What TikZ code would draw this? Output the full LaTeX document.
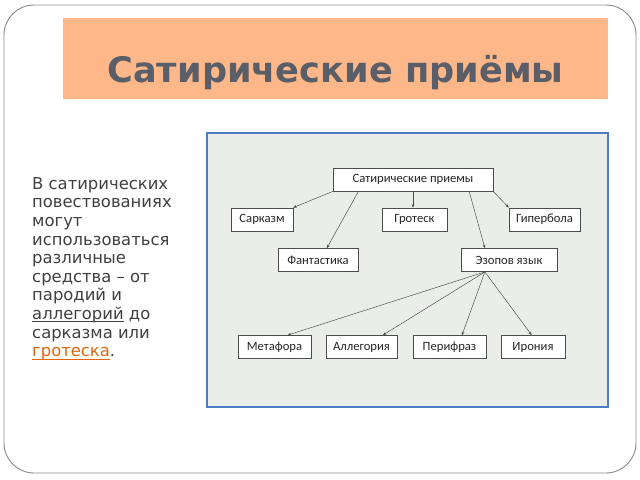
\documentclass[tikz,border=0pt]{standalone}
\usepackage{fontspec}
\setmainfont{DejaVu Sans}
\newfontfamily\boxfont{Carlito}
\usetikzlibrary{arrows.meta,calc,positioning}
\definecolor{bandorange}{HTML}{FDB788}
\definecolor{titlegray}{HTML}{5A5E69}
\definecolor{textgray}{HTML}{404040}
\definecolor{linkorange}{HTML}{E0650F}
\definecolor{panelblue}{HTML}{4F7AC7}
\definecolor{panelfill}{HTML}{EAEDE8}
\definecolor{framegray}{HTML}{8C8C8C}
\newcommand\linkline[1]{\leavevmode\setbox0\hbox{#1}\rlap{\rule[-2.2pt]{\wd0}{0.6pt}}\box0\relax}
\tikzset{
    box/.style ={rectangle, draw=black!70, fill=white, minimum height=0.7cm,
                 inner sep=0pt, font=\boxfont\fontsize{10.8}{12}\selectfont, text=black!85},
    link/.style={-{Stealth[length=3pt,width=2.4pt]}, draw=black!70, line width=0.4pt}
}

\begin{document}
\begin{tikzpicture}[x=0.03cm,y=-0.03cm]
      \useasboundingbox[fill=white] (0,0) rectangle (640,480);
      \draw[framegray,line width=0.8pt,rounded corners=0.9cm] (4,5) rectangle (636,473);

      % title band
      \fill[bandorange] (63,18) rectangle (608,99);
      \node[font=\bfseries\fontsize{30}{34}\selectfont,text=titlegray] (title) at (335.5,73) {Сатирические приёмы};

      % left text
      \node[anchor=north west,inner sep=0pt,align=left,text=textgray,
            font=\fontsize{14}{15.9}\selectfont] (intro) at (32,177)
           {В сатирических\\повествованиях\\могут\\использоваться\\различные\\средства – от\\пародий и\\
            \linkline{аллегорий} до\\сарказма или\\\textcolor{linkorange}{\linkline{гротеска}}.};

      % scheme panel
      \draw[panelblue,fill=panelfill,line width=1.7pt] (207,133) rectangle (608,407);

      \node[box,minimum width=4.8cm] (root) at (413,179.5) {Сатирические приемы};
      \node[box,minimum width=1.86cm] (sarc) at (262,219.5) {Сарказм};
      \node[box,minimum width=1.95cm] (grot) at (414.5,219.5) {Гротеск};
      \node[box,minimum width=2.13cm] (hyp) at (544.5,219.5) {Гипербола};
      \node[box,minimum width=2.4cm] (fant) at (318,260) {Фантастика};
      \node[box,minimum width=2.88cm] (ezop) at (509,260) {Эзопов язык};
      \node[box,minimum width=2.19cm] (meta) at (274.5,347) {Метафора};
      \node[box,minimum width=2.13cm] (alle) at (361.5,347) {Аллегория};
      \node[box,minimum width=2.19cm] (peri) at (449.5,347) {Перифраз};
      \node[box,minimum width=1.92cm] (iron) at (533,347) {Ирония};

      \path (root.south west) edge[link] (sarc.north east);
      \path ($(root.south west)!0.16!(root.south east)$) edge[link] ($(fant.north west)!0.61!(fant.north east)$);
      \path (root.south) edge[link] (root.south |- grot.north);
      \path ($(root.south west)!0.85!(root.south east)$) edge[link] ($(ezop.north west)!0.25!(ezop.north east)$);
      \path (root.south east) edge[link] (hyp.north west);

      \coordinate (hub) at ($(ezop.south west)!0.25!(ezop.south east)$);
      \path (hub) edge[link] ($(meta.north west)!0.68!(meta.north east)$);
      \path (hub) edge[link] ($(alle.north west)!0.8!(alle.north east)$);
      \path (hub) edge[link] ($(peri.north west)!0.67!(peri.north east)$);
      \path (hub) edge[link] ($(iron.north west)!0.48!(iron.north east)$);
\end{tikzpicture}
\end{document}
